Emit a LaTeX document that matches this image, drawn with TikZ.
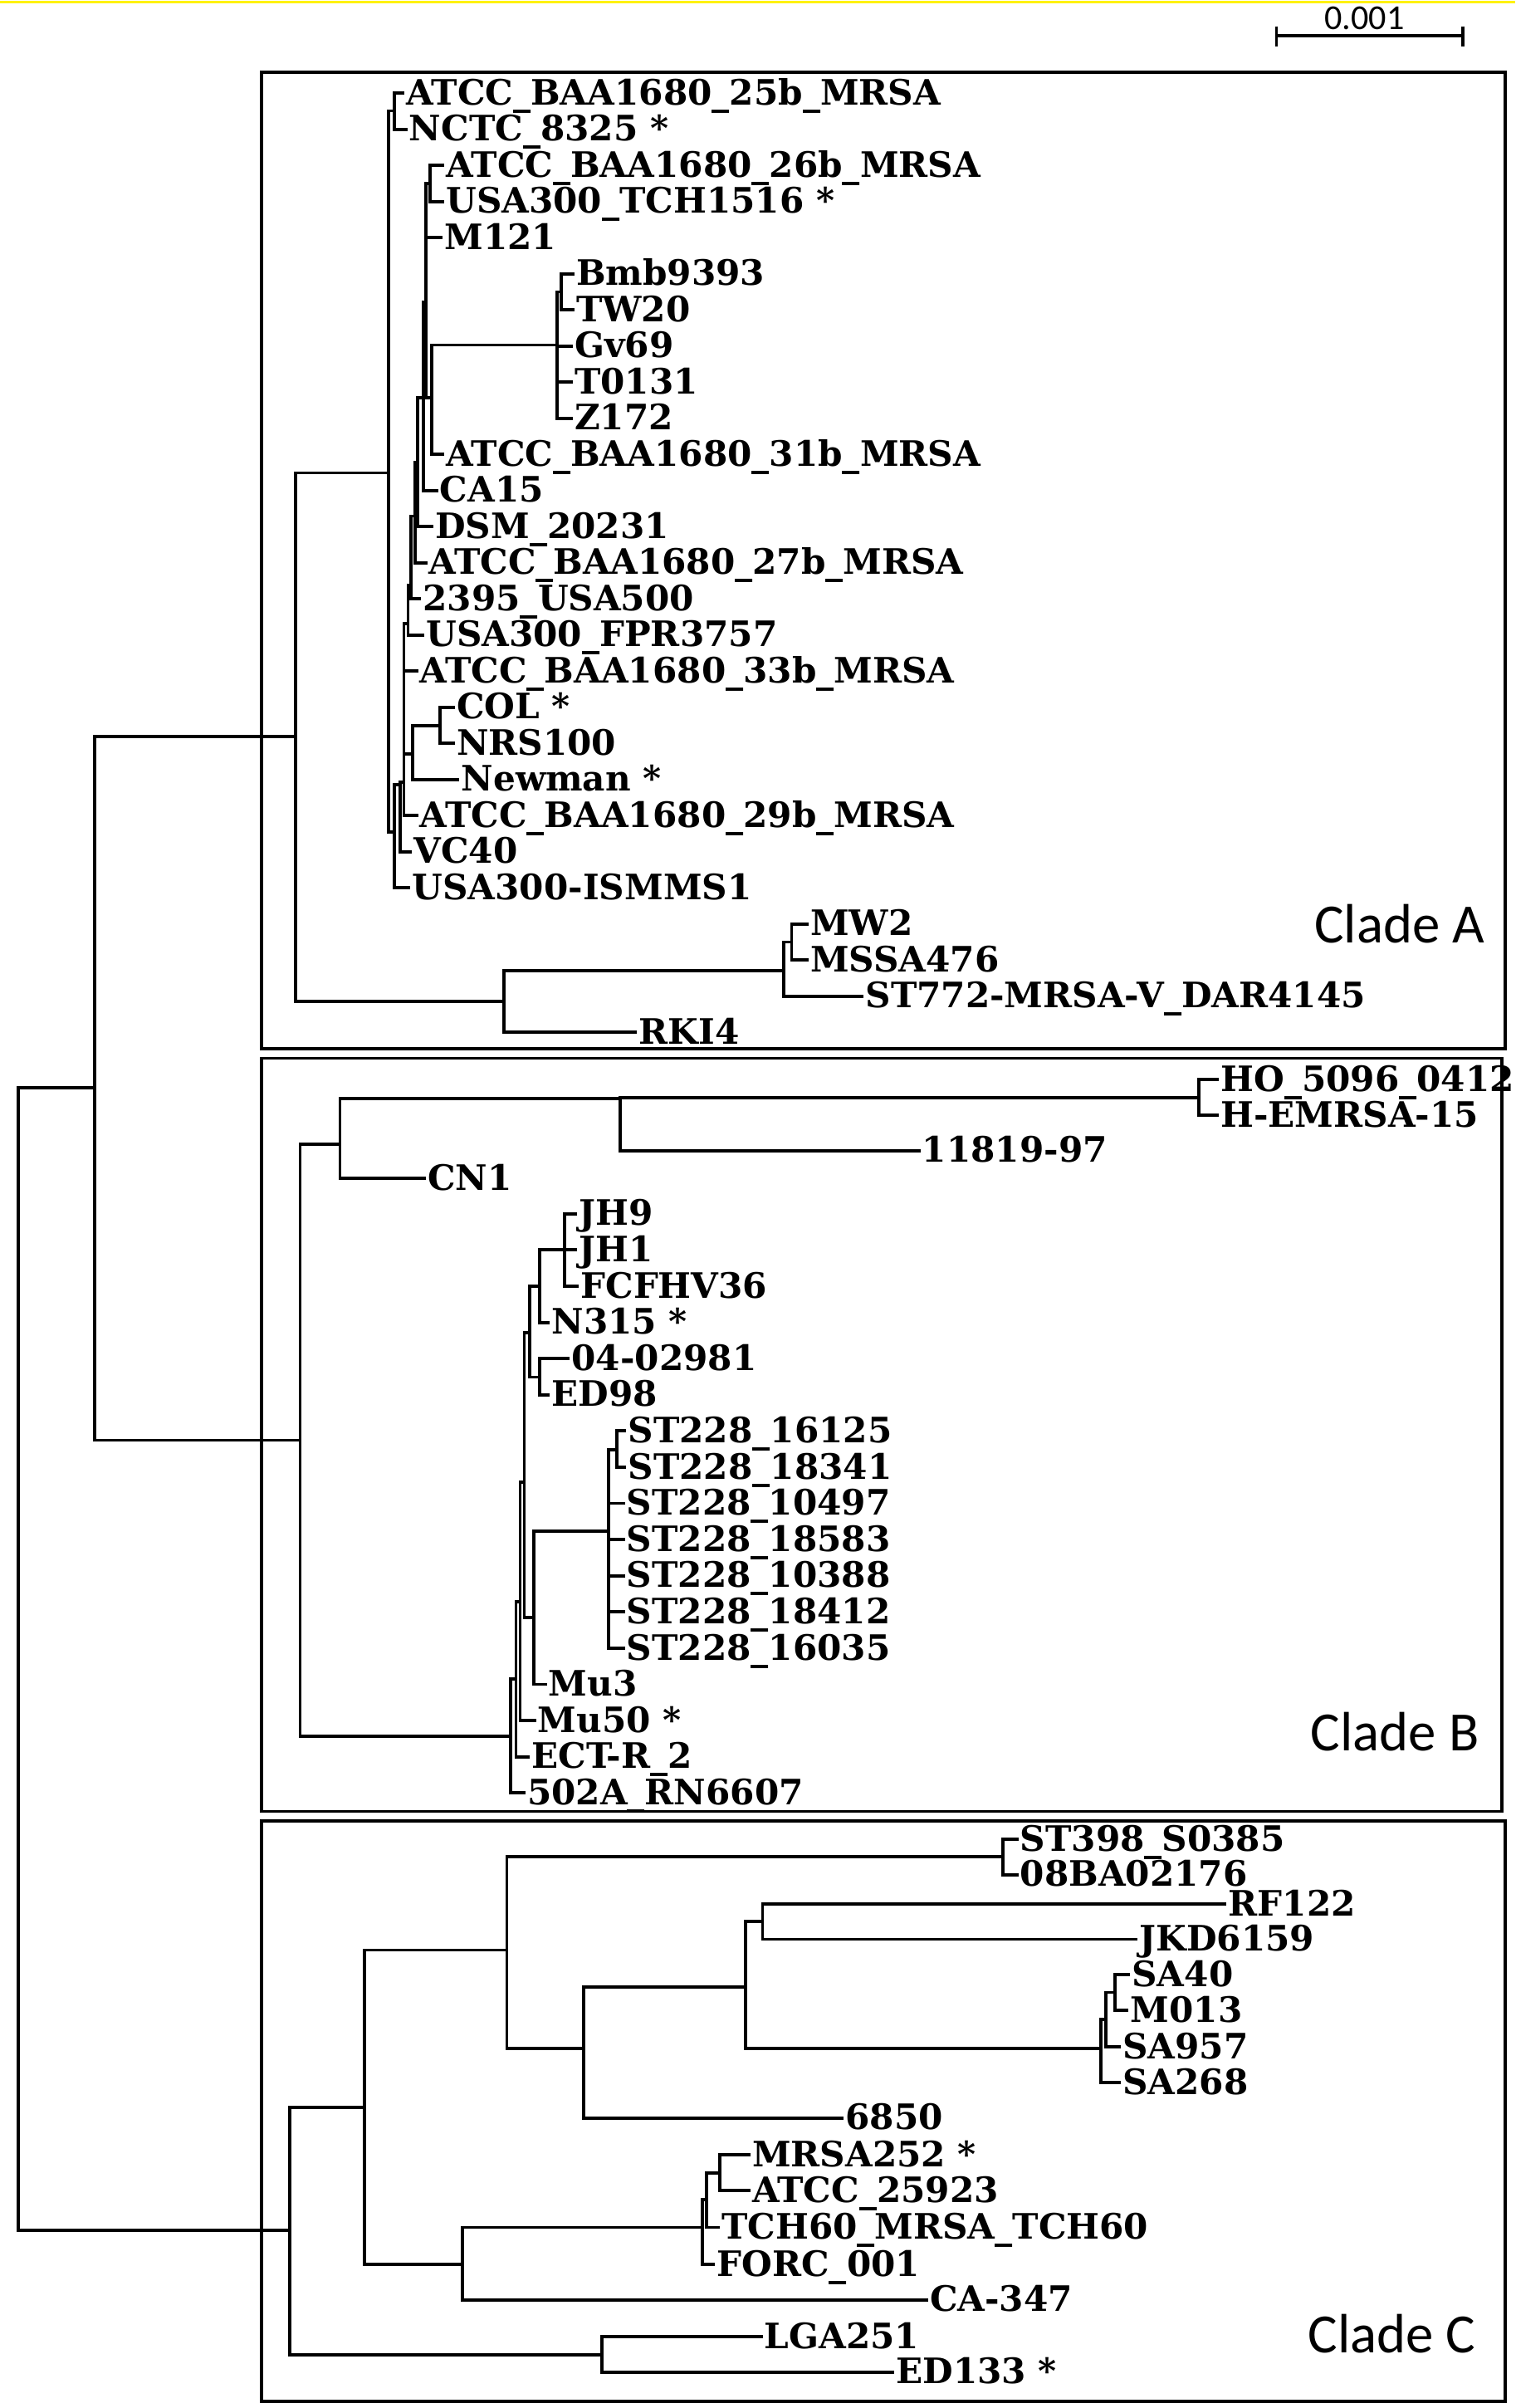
\documentclass[tikz,border=0pt]{standalone}
\usepackage{fontspec}
\setmainfont{DejaVu Serif}
\newfontfamily\cladefont{Carlito}
\begin{document}
\begin{tikzpicture}[x=0.01845cm,y=-0.01855cm,
  br/.style={line width=1.1pt,line cap=rect},
  box/.style={line width=1.1pt},
  lf/.style={anchor=west,inner sep=1pt,font=\bfseries\fontsize{12}{12}\selectfont,text height=1.55ex,text depth=0pt},
  clade/.style={font=\cladefont\fontsize{19}{19}\selectfont,inner sep=0pt}]
\useasboundingbox (0,0) rectangle (989.7,1563.3);
\fill[white] (0,0) rectangle (989.7,1563.3);
\draw[yellow,line width=0.8pt] (0,1.5) -- (989.7,1.5);
\newcommand{\lfs}[2]{\foreach \c in {#2} {\draw[br] (#1) |- (\c.west);}}
\newcommand{\nds}[2]{\foreach \c in {#2} {\draw[br] (#1) |- (\c);}}
% scale bar
\coordinate (s1) at (833.6,23.2); \coordinate (s2) at (955.5,23.2);
\draw[line width=1.1pt] (s1) -- (s2);
\draw[line width=1.1pt] (833.6,17) -- (833.6,30); \draw[line width=1.1pt] (955.5,17) -- (955.5,30);
\node[font=\cladefont\fontsize{12}{12}\selectfont,inner sep=0pt] (sl) at (891,12) {0.001};
% boxes
\draw[box] (171,47) rectangle (983,681);
\draw[box] (171,687) rectangle (981,1176);
\draw[box] (171,1182) rectangle (983,1559);
\node[clade] (la) at (914,600) {Clade A};
\node[clade] (lb) at (911,1124) {Clade B};
\node[clade] (lc) at (909,1515) {Clade C};
% Clade A leaves
\node[lf] (a1) at (263,60.5) {ATCC\_BAA1680\_25b\_MRSA};
\node[lf] (a2) at (265,84) {NCTC\_8325 *};
\node[lf] (a3) at (289,107.4) {ATCC\_BAA1680\_26b\_MRSA};
\node[lf] (a4) at (289,130.9) {USA300\_TCH1516 *};
\node[lf] (a5) at (288,154.3) {M121};
\node[lf] (a6) at (374,177.8) {Bmb9393};
\node[lf] (a7) at (374,201.2) {TW20};
\node[lf] (a8) at (373,224.7) {Gv69};
\node[lf] (a9) at (373,248.1) {T0131};
\node[lf] (a10) at (373,271.6) {Z172};
\node[lf] (a11) at (289,295) {ATCC\_BAA1680\_31b\_MRSA};
\node[lf] (a12) at (285,318.5) {CA15};
\node[lf] (a13) at (282,341.9) {DSM\_20231};
\node[lf] (a14) at (278,365.4) {ATCC\_BAA1680\_27b\_MRSA};
\node[lf] (a15) at (274,388.8) {2395\_USA500};
\node[lf] (a16) at (276,412.3) {USA300\_FPR3757};
\node[lf] (a17) at (272,435.7) {ATCC\_BAA1680\_33b\_MRSA};
\node[lf] (a18) at (296,459.2) {COL *};
\node[lf] (a19) at (296,482.6) {NRS100};
\node[lf] (a20) at (299,506.1) {Newman *};
\node[lf] (a21) at (272,529.5) {ATCC\_BAA1680\_29b\_MRSA};
\node[lf] (a22) at (268,553) {VC40};
\node[lf] (a23) at (267,576.4) {USA300-ISMMS1};
\node[lf] (a24) at (527,599.9) {MW2};
\node[lf] (a25) at (527,623.3) {MSSA476};
\node[lf] (a26) at (563,646.8) {ST772-MRSA-V\_DAR4145};
\node[lf] (a27) at (415,670.2) {RKI4};
% Clade A internal
\coordinate (nA12) at (257.5,72);
\coordinate (nBmbP) at (366.7,189.5);
\coordinate (nBmb) at (364,224);
\coordinate (nP) at (282,258);
\coordinate (nTCH) at (281,119);
\coordinate (nQ) at (278.3,196);
\coordinate (nR) at (276.5,258);
\coordinate (nS) at (272.9,300);
\coordinate (nT) at (271,335);
\coordinate (nU) at (268.3,380);
\coordinate (nV) at (266.5,405);
\coordinate (nZ) at (287.4,471);
\coordinate (nY) at (269.3,489.6);
\coordinate (nW) at (263.8,508);
\coordinate (nX2) at (261.1,509.5);
\coordinate (nX1) at (257.5,540);
\coordinate (nA0) at (253.8,307);
\coordinate (nMWp) at (517,611.6);
\coordinate (nMW) at (512,630);
\coordinate (nMWR) at (329,650);
\coordinate (nA) at (193,478);
\lfs{nA12}{a1,a2}
\lfs{nBmbP}{a6,a7}
\lfs{nBmb}{a8,a9,a10}\nds{nBmb}{nBmbP}
\nds{nP}{nBmb}\lfs{nP}{a11}
\lfs{nTCH}{a3,a4}
\nds{nQ}{nTCH,nP}\lfs{nQ}{a5}
\nds{nR}{nQ}\lfs{nR}{a12}
\nds{nS}{nR}\lfs{nS}{a13}
\nds{nT}{nS}\lfs{nT}{a14}
\nds{nU}{nT}\lfs{nU}{a15}
\nds{nV}{nU}\lfs{nV}{a16}
\lfs{nZ}{a18,a19}
\nds{nY}{nZ}\lfs{nY}{a20}
\nds{nW}{nV,nY}\lfs{nW}{a17,a21}
\nds{nX2}{nW}\lfs{nX2}{a22}
\nds{nX1}{nX2}\lfs{nX1}{a23}
\nds{nA0}{nA12,nX1}
\lfs{nMWp}{a24,a25}
\nds{nMW}{nMWp}\lfs{nMW}{a26}
\nds{nMWR}{nMW}\lfs{nMWR}{a27}
\nds{nA}{nA0,nMWR}
% Clade B leaves
\node[lf] (b1) at (795,701) {HO\_5096\_0412};
\node[lf] (b2) at (795,724) {H-EMRSA-15};
\node[lf] (b3) at (600,747) {11819-97};
\node[lf] (b4) at (277,765) {CN1};
\node[lf] (b5) at (376,788) {JH9};
\node[lf] (b6) at (376,811.5) {JH1};
\node[lf] (b7) at (377,835) {FCFHV36};
\node[lf] (b8) at (358,858.5) {N315 *};
\node[lf] (b9) at (371,882) {04-02981};
\node[lf] (b10) at (358,905.5) {ED98};
\node[lf] (b11) at (408,929) {ST228\_16125};
\node[lf] (b12) at (408,952.5) {ST228\_18341};
\node[lf] (b13) at (407,976) {ST228\_10497};
\node[lf] (b14) at (407,999.5) {ST228\_18583};
\node[lf] (b15) at (407,1023) {ST228\_10388};
\node[lf] (b16) at (407,1046.5) {ST228\_18412};
\node[lf] (b17) at (407,1070) {ST228\_16035};
\node[lf] (b18) at (356,1093.5) {Mu3};
\node[lf] (b19) at (349,1117) {Mu50 *};
\node[lf] (b20) at (345,1140.5) {ECT-R\_2};
\node[lf] (b21) at (342,1164) {502A\_RN6607};
% Clade B internal
\coordinate (nHO) at (783,712.5);
\coordinate (n405) at (405,713);
\coordinate (n222) at (222,743);
\coordinate (nJH) at (368.6,811.5);
\coordinate (nJ2) at (352.3,835);
\coordinate (nED) at (352.3,894);
\coordinate (nJ3) at (346,865);
\coordinate (nSTp) at (403,941);
\coordinate (nST) at (397.5,994);
\coordinate (nM3) at (348.7,1050);
\coordinate (nJ4) at (342.4,962);
\coordinate (nJ5) at (339.7,1040);
\coordinate (nJ6) at (337,1090);
\coordinate (nJ7) at (333.4,1127);
\coordinate (nB) at (196,935);
\lfs{nHO}{b1,b2}
\nds{n405}{nHO}\lfs{n405}{b3}
\nds{n222}{n405}\lfs{n222}{b4}
\lfs{nJH}{b5,b6,b7}
\nds{nJ2}{nJH}\lfs{nJ2}{b8}
\lfs{nED}{b9,b10}
\nds{nJ3}{nJ2,nED}
\lfs{nSTp}{b11,b12}
\nds{nST}{nSTp}\lfs{nST}{b13,b14,b15,b16,b17}
\nds{nM3}{nST}\lfs{nM3}{b18}
\nds{nJ4}{nJ3,nM3}
\nds{nJ5}{nJ4}\lfs{nJ5}{b19}
\nds{nJ6}{nJ5}\lfs{nJ6}{b20}
\nds{nJ7}{nJ6}\lfs{nJ7}{b21}
\nds{nB}{n222,nJ7}
% Clade C leaves
\node[lf] (c1) at (664,1194) {ST398\_S0385};
\node[lf] (c2) at (664,1217) {08BA02176};
\node[lf] (c3) at (800,1236) {RF122};
\node[lf] (c4) at (742,1259) {JKD6159};
\node[lf] (c5) at (737,1282) {SA40};
\node[lf] (c6) at (736,1305) {M013};
\node[lf] (c7) at (731,1329) {SA957};
\node[lf] (c8) at (731,1352) {SA268};
\node[lf] (c9) at (550,1375) {6850};
\node[lf] (c10) at (489,1399) {MRSA252 *};
\node[lf] (c11) at (489,1422) {ATCC\_25923};
\node[lf] (c12) at (469,1446) {TCH60\_MRSA\_TCH60};
\node[lf] (c13) at (466,1470) {FORC\_001};
\node[lf] (c14) at (605,1493) {CA-347};
\node[lf] (c15) at (497,1517) {LGA251};
\node[lf] (c16) at (583,1540) {ED133 *};
% Clade C internal
\coordinate (nSTC) at (655,1205.5);
\coordinate (nRF) at (498,1247.5);
\coordinate (nSA1) at (728,1293.5);
\coordinate (nSA2) at (722,1311);
\coordinate (nSA3) at (719,1330);
\coordinate (nC487) at (487,1290);
\coordinate (nC381) at (381,1330);
\coordinate (nC331) at (331,1266);
\coordinate (nMR1) at (470,1410.5);
\coordinate (nMR2) at (461.6,1428);
\coordinate (nMR3) at (458.6,1446);
\coordinate (nC302) at (302,1470);
\coordinate (nC238) at (238,1368);
\coordinate (nC393) at (393,1529);
\coordinate (nC) at (189,1448);
\lfs{nSTC}{c1,c2}
\lfs{nRF}{c3,c4}
\lfs{nSA1}{c5,c6}
\nds{nSA2}{nSA1}\lfs{nSA2}{c7}
\nds{nSA3}{nSA2}\lfs{nSA3}{c8}
\nds{nC487}{nRF,nSA3}
\nds{nC381}{nC487}\lfs{nC381}{c9}
\nds{nC331}{nSTC,nC381}
\lfs{nMR1}{c10,c11}
\nds{nMR2}{nMR1}\lfs{nMR2}{c12}
\nds{nMR3}{nMR2}\lfs{nMR3}{c13}
\nds{nC302}{nMR3}\lfs{nC302}{c14}
\nds{nC238}{nC331,nC302}
\lfs{nC393}{c15,c16}
\nds{nC}{nC238,nC393}
% root
\coordinate (nAB) at (62,706);
\coordinate (nR0) at (12,1077);
\nds{nAB}{nA,nB}
\nds{nR0}{nAB,nC}
\end{tikzpicture}
\end{document}
